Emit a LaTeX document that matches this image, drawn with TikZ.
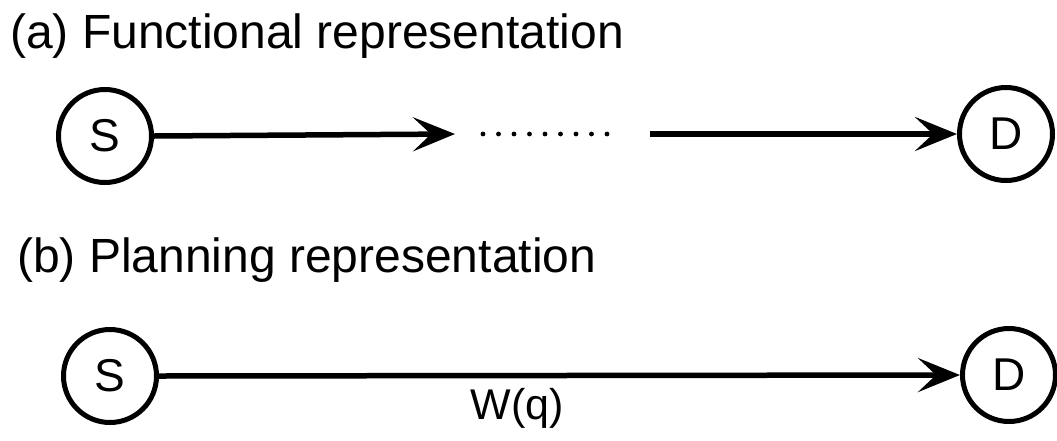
\documentclass[tikz,border=0pt]{standalone}
\usepackage{fontspec}
\setmainfont{Liberation Sans}
\usetikzlibrary{arrows.meta}
\begin{document}
\begin{tikzpicture}[x=1pt,y=-1pt,
  endpoint/.style={circle,draw,line width=5pt,minimum size=93pt,inner sep=0pt,font=\fontsize{46}{50}\selectfont},
  title/.style={anchor=base west,inner sep=0pt,font=\fontsize{48}{52}\selectfont},
  flow/.style={line width=5.5pt,-{Stealth[length=42pt,width=34pt,inset=18pt]}},
  dotmark/.style={fill=black}]
\useasboundingbox (0,0) rectangle (1057,440);
\node[title] (ta) at (10,48) {(a) Functional representation};
\node[title] (tb) at (17,272) {(b) Planning representation};
% (a)
\node[endpoint] (s1) at (105,136) {S};
\node[endpoint] (d1) at (1006,134) {D};
\coordinate (a1end) at (455,134);
\coordinate (a2start) at (650,134);
\draw[flow] (s1.east) -- (a1end);
\draw[flow] (a2start) -- (d1.west);
\foreach \i in {0,...,8} {\fill[dotmark] (483+15.5*\i,134) circle (2.4pt);}
% (b)
\node[endpoint] (s2) at (110,376) {S};
\node[endpoint] (d2) at (1009,375) {D};
\draw[flow] (s2.east) -- (d2.west);
\node[anchor=base,inner sep=0pt,font=\fontsize{43}{47}\selectfont] (w) at (517,419) {W(q)};
\end{tikzpicture}
\end{document}
